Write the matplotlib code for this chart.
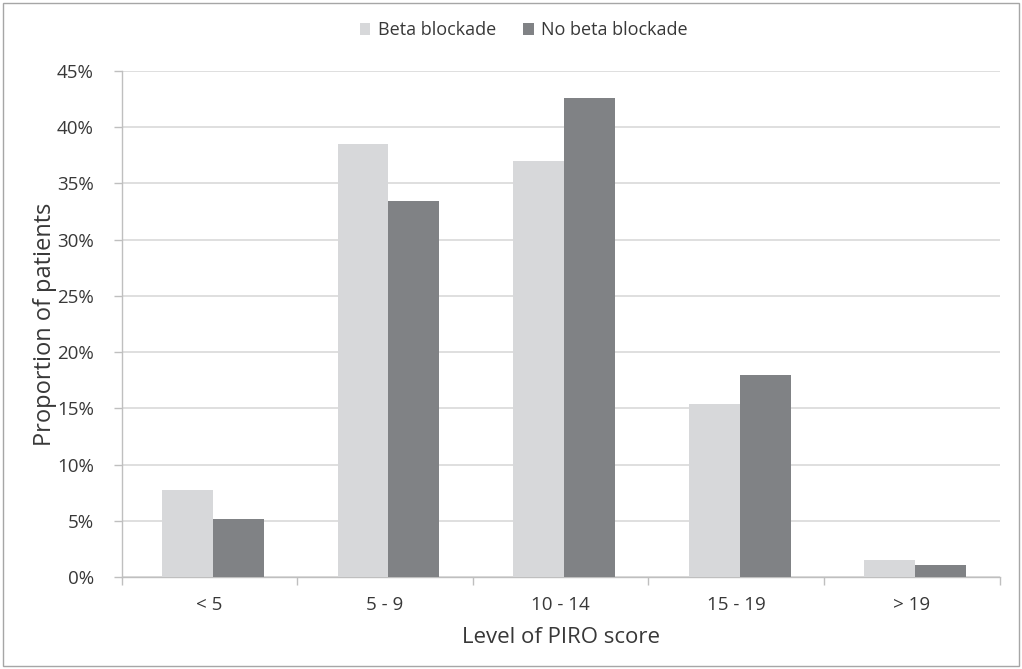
import matplotlib
matplotlib.use("Agg")
import matplotlib.pyplot as plt
import numpy as np
from matplotlib.patches import Rectangle
from matplotlib.ticker import FuncFormatter, MultipleLocator

categories = ["< 5", "5 - 9", "10 - 14", "15 - 19", "> 19"]
beta = [7.7, 38.5, 37.0, 15.4, 1.5]
no_beta = [5.2, 33.4, 42.6, 18.0, 1.1]
series_names = ["Beta blockade", "No beta blockade"]

plt.rcParams['font.family'] = ['Open Sans', 'DejaVu Sans']
txt = '#383838'

fig = plt.figure(figsize=(10.22, 6.69), dpi=100)
ax = fig.add_axes([0.119, 0.1375, 0.859, 0.7565])

# outer frame like the exported chart area
fig.patches.append(Rectangle((0.003, 0.005), 0.994, 0.99, transform=fig.transFigure,
                             fill=False, edgecolor='#a6a6a6', linewidth=1.0))

x = np.arange(len(categories))
w = 0.29
ax.bar(x - w / 2 + 0.02, beta, w, color='#d7d8da', label=series_names[0], zorder=3)
ax.bar(x + w / 2 + 0.02, no_beta, w, color='#808285', label=series_names[1], zorder=3)

ax.set_xlim(-0.5, len(categories) - 0.5)
ax.set_ylim(0, 45)
ax.yaxis.set_major_locator(MultipleLocator(5))
ax.yaxis.set_major_formatter(FuncFormatter(lambda v, p: f"{int(v)}%"))
ax.grid(axis='y', color='#d9d9d9', linewidth=1.2, zorder=0)

ax.set_xticks(x)
ax.set_xticklabels(categories)
ax.set_xticks(np.arange(len(categories) + 1) - 0.5, minor=True)
ax.tick_params(axis='x', which='major', length=0, pad=14, labelsize=13.5, colors=txt)
ax.tick_params(axis='x', which='minor', length=6, color='#bfbfbf', width=1)
ax.tick_params(axis='y', length=6, color='#bfbfbf', width=1, labelsize=13.5, colors=txt, pad=14)

for s in ['top', 'right']:
    ax.spines[s].set_visible(False)
for s in ['left', 'bottom']:
    ax.spines[s].set_color('#bfbfbf')
    ax.spines[s].set_linewidth(1)

ax.set_xlabel("Level of PIRO score", fontsize=16, color=txt, labelpad=9)
ax.set_ylabel("Proportion of patients", fontsize=17, color=txt, labelpad=0)

ax.legend(loc='lower center', bbox_to_anchor=(0.458, 1.03), ncol=2, frameon=False,
          fontsize=13, handlelength=0.6, handleheight=0.6, handletextpad=0.4,
          columnspacing=1.5, labelcolor=txt)

fig.savefig("out.png", dpi=100)
